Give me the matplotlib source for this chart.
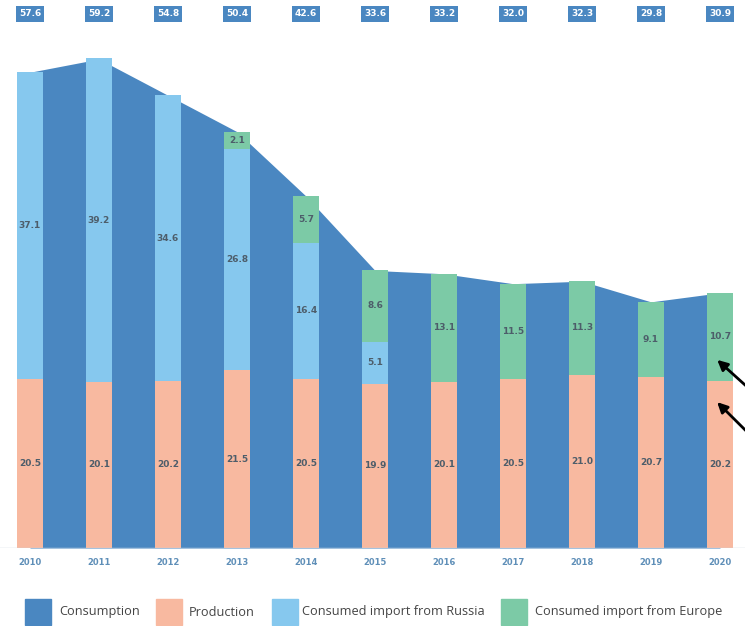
import matplotlib.pyplot as plt
import numpy as np

years = ['2010', '2011', '2012', '2013', '2014', '2015', '2016', '2017', '2018', '2019', '2020']
consumption = [57.6, 59.2, 54.8, 50.4, 42.6, 33.6, 33.2, 32.0, 32.3, 29.8, 30.9]
production = [20.5, 20.1, 20.2, 21.5, 20.5, 19.9, 20.1, 20.5, 21.0, 20.7, 20.2]
russia = [37.1, 39.2, 34.6, 26.8, 16.4, 5.1, 0, 0, 0, 0, 0]
europe = [0, 0, 0, 2.1, 5.7, 8.6, 13.1, 11.5, 11.3, 9.1, 10.7]

C_CONS = '#4a87c1'
C_PROD = '#f8b9a0'
C_RUS = '#86c8ee'
C_EUR = '#7ccaa6'

x = np.arange(len(years))
fig = plt.figure(figsize=(7.45, 6.26), dpi=100)
ax = fig.add_axes([0, 78 / 626, 1, 548 / 626])
ax.set_xlim(-30 / 69, 10 + 25 / 69)
ax.set_ylim(0, 548 / 8.26)

# consumption as an area behind the bars
ax.fill_between(x, consumption, color=C_CONS, lw=0, zorder=1)

w = 0.39
prod = np.array(production)
rus = np.array(russia)
eur = np.array(europe)
ax.bar(x, prod, w, color=C_PROD, zorder=2)
ax.bar(x, rus, w, bottom=prod, color=C_RUS, zorder=2)
ax.bar(x, eur, w, bottom=prod + rus, color=C_EUR, zorder=2)

lab = dict(ha='center', va='center', fontsize=6.5, color='#4d5d6a', fontweight='bold', zorder=3)
for i in range(len(years)):
    ax.text(x[i], prod[i] / 2, f'{prod[i]:.1f}', **lab)
    if rus[i] > 0:
        ax.text(x[i], prod[i] + rus[i] / 2, f'{rus[i]:.1f}', **lab)
    if eur[i] > 0:
        ax.text(x[i], prod[i] + rus[i] + eur[i] / 2, f'{eur[i]:.1f}', **lab)
    # total on top
    ax.text(x[i], (548 - 14) / 8.26, f'{consumption[i]:.1f}', ha='center', va='center',
            fontsize=6.5, color='white', fontweight='bold',
            bbox=dict(boxstyle='square,pad=0.35', fc=C_CONS, ec='none'))
    ax.text(x[i], -1.7, years[i], ha='center', va='center', fontsize=6,
            color='#5f8fb8', fontweight='bold')

ax.axhline(0, color='#c9d6e0', lw=1, zorder=4)

# arrows pointing at the 2020 bar
ax.annotate('', xy=(9.93, 23.0), xytext=(10.58, 18.1),
            arrowprops=dict(arrowstyle='-|>', color='black', lw=2, mutation_scale=15),
            annotation_clip=False)
ax.annotate('', xy=(9.93, 17.9), xytext=(10.58, 12.5),
            arrowprops=dict(arrowstyle='-|>', color='black', lw=2, mutation_scale=15),
            annotation_clip=False)

for s in ax.spines.values():
    s.set_visible(False)
ax.set_xticks([])
ax.set_yticks([])

# legend
names = ['Consumption', 'Production', 'Consumed import from Russia', 'Consumed import from Europe']
colors = [C_CONS, C_PROD, C_RUS, C_EUR]
patch_x = [25, 156, 272, 501]
text_x = [59, 189, 302, 535]
for name, c, px, tx in zip(names, colors, patch_x, text_x):
    fig.patches.append(plt.Rectangle((px / 745, 1 / 626), 26 / 745, 26 / 626,
                                     transform=fig.transFigure, color=c))
    fig.text(tx / 745, 14 / 626, name, ha='left', va='center',
             fontsize=9.2, color='#444444', family='Open Sans')

fig.savefig('out.png', dpi=100)
